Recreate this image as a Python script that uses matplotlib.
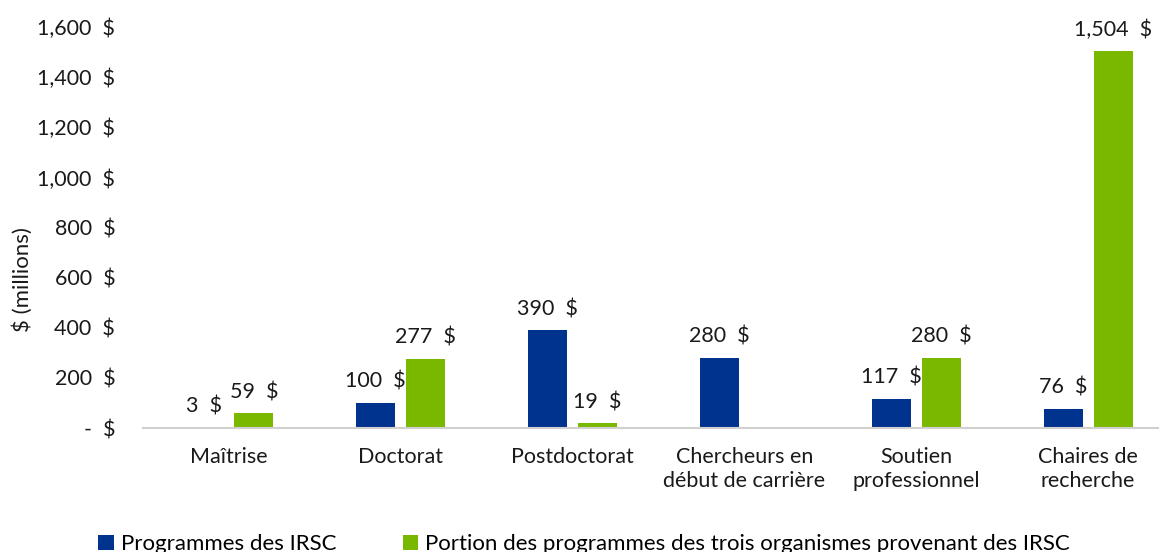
import matplotlib.pyplot as plt
import numpy as np

plt.rcParams['font.family'] = ['Lato', 'DejaVu Sans']

categories = ['Maîtrise', 'Doctorat', 'Postdoctorat', 'Chercheurs en\ndébut de carrière',
              'Soutien\nprofessionnel', 'Chaires de\nrecherche']
irsc = [3, 100, 390, 280, 117, 76]
tri = [59, 277, 19, None, 280, 1504]
series_names = ['Programmes des IRSC', 'Portion des programmes des trois organismes provenant des IRSC']
yticks = [0, 200, 400, 600, 800, 1000, 1200, 1400, 1600]

blue = '#00338D'
green = '#7AB800'
txt = '#1a1a1a'

fig = plt.figure(figsize=(11.59, 5.52), dpi=100)
ax = fig.add_axes([0.1234, 0.2246, 0.8895, 0.7264])

x = np.arange(len(categories))
w = 0.227
off = 0.1455
tri_vals = [v if v is not None else 0 for v in tri]
b1 = ax.bar(x - off, irsc, w, color=blue, label=series_names[0])
b2 = ax.bar(x + off, tri_vals, w, color=green, label=series_names[1])

for xi, v in zip(x, irsc):
    ax.annotate(f'{v:,}  $', xy=(xi - off, v), xytext=(0, 8), textcoords='offset points',
                ha='center', va='bottom', fontsize=15.5, color=txt)
for xi, v in zip(x, tri):
    if v is None:
        continue
    ax.annotate(f'{v:,}  $', xy=(xi + off, v), xytext=(0, 8), textcoords='offset points',
                ha='center', va='bottom', fontsize=15.5, color=txt)

ax.set_xlim(-0.5, len(categories) - 0.5)
ax.set_ylim(0, 1600)
ax.set_yticks(yticks)
ax.set_yticklabels([f'{t:,}  $' if t else '-  $' for t in yticks], fontsize=15.5, color=txt)
ax.set_xticks(x)
ax.set_xticklabels(categories, fontsize=15.5, color=txt, linespacing=1.25)
ax.tick_params(axis='both', length=0)
ax.tick_params(axis='x', pad=14)
ax.tick_params(axis='y', pad=20)
for s in ['top', 'right', 'left']:
    ax.spines[s].set_visible(False)
ax.spines['bottom'].set_color('#d0d0d0')
ax.spines['bottom'].set_linewidth(1.5)
ax.set_ylabel('$ (millions)', fontsize=16, color=txt)
ax.yaxis.set_label_coords(-0.107, 0.369)

fig.legend(handles=[b1, b2], loc='lower center', bbox_to_anchor=(0.504, -0.04), ncol=2,
           frameon=False, fontsize=16, handlelength=0.7, handleheight=0.7,
           handletextpad=0.3, columnspacing=3.0)

plt.savefig('out.png', dpi=100)
